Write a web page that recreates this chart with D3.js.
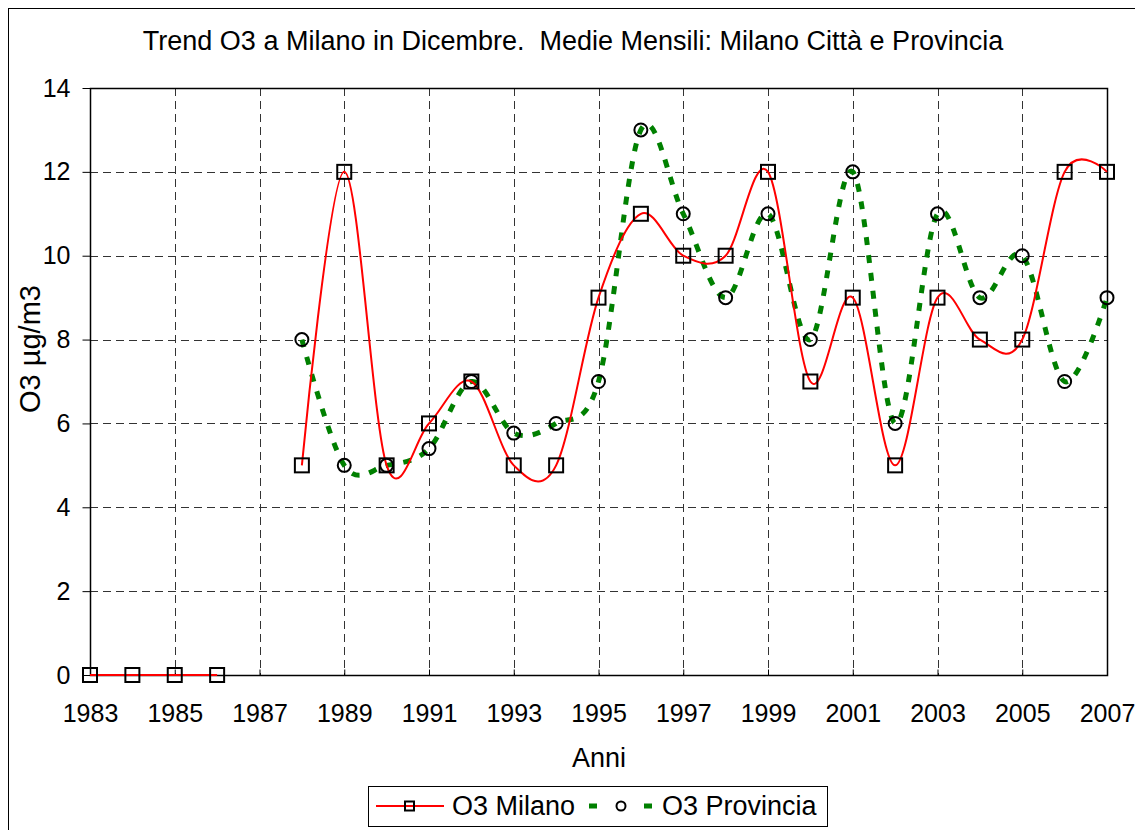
<!DOCTYPE html>
<html>
<head>
<meta charset="utf-8">
<script src="https://cdn.jsdelivr.net/npm/d3@7"></script>
<style>
body { margin: 0; background: #fff; }
svg { display: block; font-family: "Liberation Sans", Arial, sans-serif; }
</style>
</head>
<body>
<svg width="1135" height="830"></svg>
<script>
// Data
var years = d3.range(1983, 2008);
var milano = [0, 0, 0, 0, null, 5, 12, 5, 6, 7, 5, 5, 9, 11, 10, 10, 12, 7, 9, 5, 9, 8, 8, 12, 12];
var provincia = [null, null, null, null, null, 8, 5, 5, 5.4, 7, 5.77, 6, 7, 13, 11, 9, 11, 8, 12, 6, 11, 9, 10, 7, 9];
var yTicks = [0, 2, 4, 6, 8, 10, 12, 14];
var xLabels = d3.range(1983, 2008, 2);

var svg = d3.select("svg");

var margin = { left: 90, top: 88, right: 1107, bottom: 675 };

// outer frame
svg.append("rect")
	.attr("x", 8.5).attr("y", 8.5)
	.attr("width", 1140).attr("height", 840)
	.attr("fill", "none").attr("stroke", "#000").attr("stroke-width", 1);

var x = d3.scaleLinear().domain([1983, 2007]).range([margin.left, margin.right]);
var y = d3.scaleLinear().domain([0, 14]).range([margin.bottom, margin.top]);

// grid
var grid = svg.append("g").attr("stroke", "#333").attr("stroke-dasharray", "8,5").attr("stroke-width", 1);
yTicks.slice(1, -1).forEach(function (v) {
	grid.append("line")
		.attr("x1", margin.left).attr("x2", margin.right)
		.attr("y1", Math.round(y(v)) + 0.5).attr("y2", Math.round(y(v)) + 0.5);
});
xLabels.slice(1, -1).forEach(function (v) {
	grid.append("line")
		.attr("y1", margin.top).attr("y2", margin.bottom)
		.attr("x1", Math.round(x(v)) + 0.5).attr("x2", Math.round(x(v)) + 0.5);
});

// plot frame
svg.append("rect")
	.attr("x", margin.left + 0.5).attr("y", margin.top + 0.5)
	.attr("width", margin.right - margin.left).attr("height", margin.bottom - margin.top)
	.attr("fill", "none").attr("stroke", "#000").attr("stroke-width", 1.5);

// y axis
var yAxis = d3.axisLeft(y).tickValues(yTicks).tickSize(8).tickPadding(12).tickFormat(d3.format("d"));
svg.append("g")
	.attr("transform", "translate(" + (margin.left + 0.5) + ",0)")
	.call(yAxis)
	.call(function (g) {
		g.select(".domain").remove();
		g.selectAll("text").attr("font-size", 25).attr("fill", "#000").attr("font-family", "Liberation Sans, Arial");
	});

// x axis (ticks inside)
var xAxis = d3.axisBottom(x).tickValues(xLabels).tickSize(-6).tickFormat(d3.format("d"));
svg.append("g")
	.attr("transform", "translate(0," + (margin.bottom + 0.5) + ")")
	.call(xAxis)
	.call(function (g) {
		g.select(".domain").remove();
		g.selectAll("text")
			.attr("y", 46).attr("dy", null)
			.attr("font-size", 25).attr("fill", "#000").attr("font-family", "Liberation Sans, Arial");
	});

// titles
svg.append("text")
	.attr("x", 573).attr("y", 50)
	.attr("text-anchor", "middle").attr("font-size", 27)
	.attr("xml:space", "preserve")
	.text("Trend O3 a Milano in Dicembre.  Medie Mensili: Milano Città e Provincia");

svg.append("text")
	.attr("x", 599).attr("y", 767)
	.attr("text-anchor", "middle").attr("font-size", 27)
	.text("Anni");

svg.append("text")
	.attr("transform", "translate(40," + 349 + ") rotate(-90)")
	.attr("text-anchor", "middle").attr("font-size", 29)
	.text("O3 µg/m3");

// lines
var curve = d3.curveCatmullRom.alpha(0);

function series(vals) {
	return years.map(function (yr, i) { return { year: yr, value: vals[i] }; });
}

var milanoData = series(milano);
var provData = series(provincia);

var line = d3.line()
	.defined(function (d) { return d.value != null; })
	.x(function (d) { return x(d.year); })
	.y(function (d) { return y(d.value); })
	.curve(curve);

svg.append("path")
	.datum(provData)
	.attr("d", line)
	.attr("fill", "none")
	.attr("stroke", "#008000")
	.attr("stroke-width", 5)
	.attr("stroke-dasharray", "8,10");

svg.append("path")
	.datum(milanoData)
	.attr("d", line)
	.attr("fill", "none")
	.attr("stroke", "#ff0000")
	.attr("stroke-width", 2);

// markers
svg.append("g").selectAll("rect")
	.data(milanoData.filter(function (d) { return d.value != null; }))
	.enter().append("rect")
	.attr("x", function (d) { return x(d.year) - 7; })
	.attr("y", function (d) { return y(d.value) - 7; })
	.attr("width", 14).attr("height", 14)
	.attr("fill", "none").attr("stroke", "#000").attr("stroke-width", 2);

svg.append("g").selectAll("circle")
	.data(provData.filter(function (d) { return d.value != null; }))
	.enter().append("circle")
	.attr("cx", function (d) { return x(d.year); })
	.attr("cy", function (d) { return y(d.value); })
	.attr("r", 6.5)
	.attr("fill", "none").attr("stroke", "#000").attr("stroke-width", 2);

// legend
var legend = svg.append("g");
legend.append("rect")
	.attr("x", 368.5).attr("y", 786.5).attr("width", 459).attr("height", 40)
	.attr("fill", "#fff").attr("stroke", "#000").attr("stroke-width", 1);
legend.append("line")
	.attr("x1", 376).attr("x2", 444).attr("y1", 806).attr("y2", 806)
	.attr("stroke", "#ff0000").attr("stroke-width", 2);
legend.append("rect")
	.attr("x", 405).attr("y", 801.5).attr("width", 9).attr("height", 9)
	.attr("fill", "none").attr("stroke", "#000").attr("stroke-width", 2);
legend.append("text")
	.attr("x", 452).attr("y", 815).attr("font-size", 27).text("O3 Milano");
legend.append("line")
	.attr("x1", 589).attr("x2", 652).attr("y1", 806).attr("y2", 806)
	.attr("stroke", "#008000").attr("stroke-width", 5)
	.attr("stroke-dasharray", "8,47");
legend.append("circle")
	.attr("cx", 621).attr("cy", 806).attr("r", 4.5)
	.attr("fill", "none").attr("stroke", "#000").attr("stroke-width", 2);
legend.append("text")
	.attr("x", 662).attr("y", 815).attr("font-size", 27).text("O3 Provincia");
</script>
</body>
</html>
